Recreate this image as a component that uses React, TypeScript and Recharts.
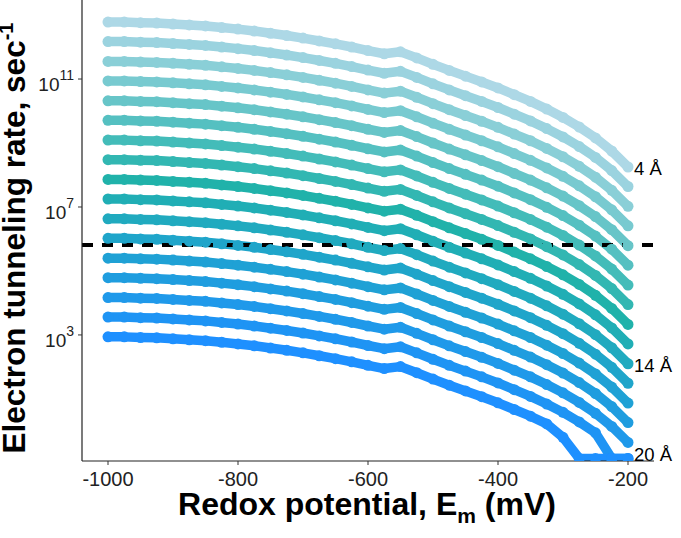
import React from 'react';
import { LineChart, Line, XAxis, YAxis, ReferenceLine } from 'recharts';

// Redox potential (mV) at which each rate was evaluated
const potentials = [
  -1000, -975, -950, -925, -900, -875, -850, -825, -800, -775, -750, -725, -700,
  -675, -650, -625, -600, -575, -550, -525, -500, -475, -450, -425, -400, -375,
  -350, -325, -300, -275, -250, -225, -200,
];

// Donor–acceptor distances (Å), one curve each
const distances = [4, 5, 6, 7, 8, 9, 10, 11, 12, 13, 14, 15, 16, 17, 18, 19, 20];

// log10 of the electron tunneling rate (sec^-1) for each distance
const logRate4 = [12.78, 12.78, 12.76, 12.75, 12.72, 12.69, 12.66, 12.61, 12.56, 12.50, 12.43, 12.36, 12.28, 12.19, 12.10, 12.00, 11.89, 11.79, 11.85, 11.66, 11.46, 11.27, 11.09, 10.91, 10.72, 10.51, 10.30, 10.06, 9.80, 9.50, 9.16, 8.75, 8.25];
const logRate5 = [12.17, 12.17, 12.15, 12.14, 12.11, 12.08, 12.05, 12.00, 11.95, 11.89, 11.82, 11.75, 11.67, 11.58, 11.49, 11.39, 11.28, 11.18, 11.24, 11.05, 10.85, 10.66, 10.48, 10.30, 10.11, 9.90, 9.69, 9.45, 9.19, 8.89, 8.55, 8.14, 7.64];
const logRate6 = [11.55, 11.55, 11.53, 11.52, 11.49, 11.46, 11.43, 11.38, 11.33, 11.27, 11.20, 11.13, 11.05, 10.96, 10.87, 10.77, 10.66, 10.56, 10.62, 10.43, 10.23, 10.04, 9.86, 9.68, 9.49, 9.28, 9.07, 8.83, 8.57, 8.27, 7.93, 7.52, 7.02];
const logRate7 = [10.94, 10.94, 10.92, 10.91, 10.88, 10.85, 10.82, 10.77, 10.72, 10.66, 10.59, 10.52, 10.44, 10.35, 10.26, 10.16, 10.05, 9.95, 10.01, 9.82, 9.62, 9.43, 9.25, 9.07, 8.88, 8.67, 8.46, 8.22, 7.96, 7.66, 7.32, 6.91, 6.41];
const logRate8 = [10.32, 10.32, 10.30, 10.29, 10.26, 10.23, 10.20, 10.15, 10.10, 10.04, 9.97, 9.90, 9.82, 9.73, 9.64, 9.54, 9.43, 9.33, 9.39, 9.20, 9.00, 8.81, 8.63, 8.45, 8.26, 8.05, 7.84, 7.60, 7.34, 7.04, 6.70, 6.29, 5.79];
const logRate9 = [9.71, 9.71, 9.69, 9.68, 9.65, 9.62, 9.59, 9.54, 9.49, 9.43, 9.36, 9.29, 9.21, 9.12, 9.03, 8.93, 8.82, 8.72, 8.78, 8.59, 8.39, 8.20, 8.02, 7.84, 7.65, 7.44, 7.23, 6.99, 6.73, 6.43, 6.09, 5.68, 5.18];
const logRate10 = [9.09, 9.09, 9.07, 9.06, 9.03, 9.00, 8.97, 8.92, 8.87, 8.81, 8.74, 8.67, 8.59, 8.50, 8.41, 8.31, 8.20, 8.10, 8.16, 7.97, 7.77, 7.58, 7.40, 7.22, 7.03, 6.82, 6.61, 6.37, 6.11, 5.81, 5.47, 5.06, 4.56];
const logRate11 = [8.48, 8.48, 8.46, 8.45, 8.42, 8.39, 8.36, 8.31, 8.26, 8.20, 8.13, 8.06, 7.98, 7.89, 7.80, 7.70, 7.59, 7.49, 7.55, 7.36, 7.16, 6.97, 6.79, 6.61, 6.42, 6.21, 6.00, 5.76, 5.50, 5.20, 4.86, 4.45, 3.95];
const logRate12 = [7.86, 7.86, 7.84, 7.83, 7.80, 7.77, 7.74, 7.69, 7.64, 7.58, 7.51, 7.44, 7.36, 7.27, 7.18, 7.08, 6.97, 6.87, 6.93, 6.74, 6.54, 6.35, 6.17, 5.99, 5.80, 5.59, 5.38, 5.14, 4.88, 4.58, 4.24, 3.83, 3.33];
const logRate13 = [7.25, 7.25, 7.23, 7.22, 7.19, 7.16, 7.13, 7.08, 7.03, 6.97, 6.90, 6.83, 6.75, 6.66, 6.57, 6.47, 6.36, 6.26, 6.32, 6.13, 5.93, 5.74, 5.56, 5.38, 5.19, 4.98, 4.77, 4.53, 4.27, 3.97, 3.63, 3.22, 2.72];
const logRate14 = [6.63, 6.63, 6.61, 6.60, 6.57, 6.54, 6.51, 6.46, 6.41, 6.35, 6.28, 6.21, 6.13, 6.04, 5.95, 5.85, 5.74, 5.64, 5.70, 5.51, 5.31, 5.12, 4.94, 4.76, 4.57, 4.36, 4.15, 3.91, 3.65, 3.35, 3.01, 2.60, 2.10];
const logRate15 = [6.02, 6.02, 6.00, 5.99, 5.96, 5.93, 5.90, 5.85, 5.80, 5.74, 5.67, 5.60, 5.52, 5.43, 5.34, 5.24, 5.13, 5.03, 5.09, 4.90, 4.70, 4.51, 4.33, 4.15, 3.96, 3.75, 3.54, 3.30, 3.04, 2.74, 2.40, 1.99, 1.49];
const logRate16 = [5.40, 5.40, 5.38, 5.37, 5.34, 5.31, 5.28, 5.23, 5.18, 5.12, 5.05, 4.98, 4.90, 4.81, 4.72, 4.62, 4.51, 4.41, 4.47, 4.28, 4.08, 3.89, 3.71, 3.53, 3.34, 3.13, 2.92, 2.68, 2.42, 2.12, 1.78, 1.37, 0.87];
const logRate17 = [4.79, 4.79, 4.77, 4.76, 4.73, 4.70, 4.67, 4.62, 4.57, 4.51, 4.44, 4.37, 4.29, 4.20, 4.11, 4.01, 3.90, 3.80, 3.86, 3.67, 3.47, 3.28, 3.10, 2.92, 2.73, 2.52, 2.31, 2.07, 1.81, 1.51, 1.17, 0.76, 0.26];
const logRate18 = [4.17, 4.17, 4.15, 4.14, 4.11, 4.08, 4.05, 4.00, 3.95, 3.89, 3.82, 3.75, 3.67, 3.58, 3.49, 3.39, 3.28, 3.18, 3.24, 3.05, 2.85, 2.66, 2.48, 2.30, 2.11, 1.90, 1.69, 1.45, 1.19, 0.89, 0.55, 0.14, -0.36];
const logRate19 = [3.56, 3.56, 3.54, 3.53, 3.50, 3.47, 3.44, 3.39, 3.34, 3.28, 3.21, 3.14, 3.06, 2.97, 2.88, 2.78, 2.67, 2.57, 2.63, 2.44, 2.24, 2.05, 1.87, 1.69, 1.50, 1.29, 1.08, 0.84, 0.58, 0.28, -0.06, -0.86, -0.86];
const logRate20 = [2.94, 2.94, 2.92, 2.91, 2.88, 2.85, 2.82, 2.77, 2.72, 2.66, 2.59, 2.52, 2.44, 2.35, 2.26, 2.16, 2.05, 1.95, 2.01, 1.82, 1.62, 1.43, 1.25, 1.07, 0.88, 0.67, 0.46, 0.22, -0.20, -0.86, -0.86, -0.86, -0.86];

const logRates = [
  logRate4, logRate5, logRate6, logRate7, logRate8, logRate9, logRate10, logRate11, logRate12,
  logRate13, logRate14, logRate15, logRate16, logRate17, logRate18, logRate19, logRate20,
];

// light blue -> light sea green -> dodger blue
const lineColors = [
  '#ADD8E6', '#9BD3DF', '#8ACFD7', '#78CAD0', '#67C5C8', '#55C0C1', '#43BCB9', '#32B7B2', '#20B2AA',
  '#20AEB5', '#20AABF', '#1FA5CA', '#1FA1D5', '#1F9DDF', '#1F99EA', '#1E94F4', '#1E90FF',
];

const labelledDistances = [4, 14, 20];
const thresholdLogRate = 5.81;
const xTicks = [-1000, -800, -600, -400, -200];
const yTicks = [3, 7, 11];

const FONT = '"Liberation Sans", Arial, Helvetica, sans-serif';

const rows = potentials.map((mv, i) => {
  const row: Record<string, number> = { mv };
  distances.forEach((d, k) => {
    row['d' + d] = logRates[k][i];
  });
  return row;
});

const YTick = (props: any) => {
  const { x, y, payload } = props;
  return (
    <text x={x - 2} y={y + 12} textAnchor="end" fontFamily={FONT} fontSize={19} fill="#222">
      10
      <tspan dy={-11} fontSize={14}>
        {payload.value}
      </tspan>
    </text>
  );
};

const XTick = (props: any) => {
  const { x, payload } = props;
  return (
    <text x={x} y={486} textAnchor="middle" fontFamily={FONT} fontSize={20} fill="#222">
      {payload.value}
    </text>
  );
};

const XTitle = () => (
  <text x={367} y={515} textAnchor="middle" fontFamily={FONT} fontWeight="bold" fontSize={32} fill="#000">
    Redox potential, E
    <tspan dy={8} fontSize={21}>
      m
    </tspan>
    <tspan dy={-8}> (mV)</tspan>
  </text>
);

const YTitle = () => (
  <text
    x={25}
    y={238}
    transform="rotate(-90, 25, 238)"
    textAnchor="middle"
    fontFamily={FONT}
    fontWeight="bold"
    fontSize={31.5}
    fill="#000"
  >
    Electron tunneling rate, sec
    <tspan dy={-12} fontSize={20}>
      -1
    </tspan>
  </text>
);

const makeEndLabel = (distance: number) => (props: any) => {
  const { x, y, index } = props;
  if (index !== potentials.length - 1) return <g key={`lbl-${distance}-${index}`} />;
  const cy = Math.min(y + 2, 454);
  return (
    <text
      key={`lbl-${distance}`}
      x={x + 6}
      y={cy + 6.5}
      fontFamily={FONT}
      fontSize={18.5}
      fill="#000"
    >
      {distance} Å
    </text>
  );
};

export default function App() {
  return (
    <div style={{ position: 'absolute', left: 0, top: 0, width: 681, height: 538, background: '#fff' }}>
      <LineChart
        width={681}
        height={538}
        data={rows}
        margin={{ top: 0, right: 27, bottom: 0, left: 0 }}
      >
        <XAxis
          dataKey="mv"
          type="number"
          domain={[-1040, -160]}
          ticks={xTicks}
          allowDataOverflow
          height={77}
          axisLine={{ stroke: '#222', strokeWidth: 1.2 }}
          tickLine={{ stroke: '#333', strokeWidth: 1 }}
          tickSize={4}
          tick={<XTick />}
          label={<XTitle />}
        />
        <YAxis
          type="number"
          domain={[-0.94, 13.47]}
          ticks={yTicks}
          allowDataOverflow
          width={82}
          axisLine={{ stroke: '#222', strokeWidth: 1.2 }}
          tickLine={{ stroke: '#333', strokeWidth: 1 }}
          tickSize={4}
          tick={<YTick />}
          label={<YTitle />}
        />
        {distances.map((d, k) => (
          <Line
            key={d}
            type="linear"
            dataKey={'d' + d}
            stroke={lineColors[k]}
            strokeWidth={9.5}
            strokeLinecap="round"
            strokeLinejoin="round"
            dot={{ r: 5.5, fill: lineColors[k], stroke: 'none', strokeWidth: 0 }}
            activeDot={false}
            isAnimationActive={false}
            label={labelledDistances.includes(d) ? makeEndLabel(d) : undefined}
          />
        ))}
        <ReferenceLine
          y={thresholdLogRate}
          stroke="#000"
          strokeWidth={4}
          strokeDasharray="11 9"
        />
      </LineChart>
    </div>
  );
}
